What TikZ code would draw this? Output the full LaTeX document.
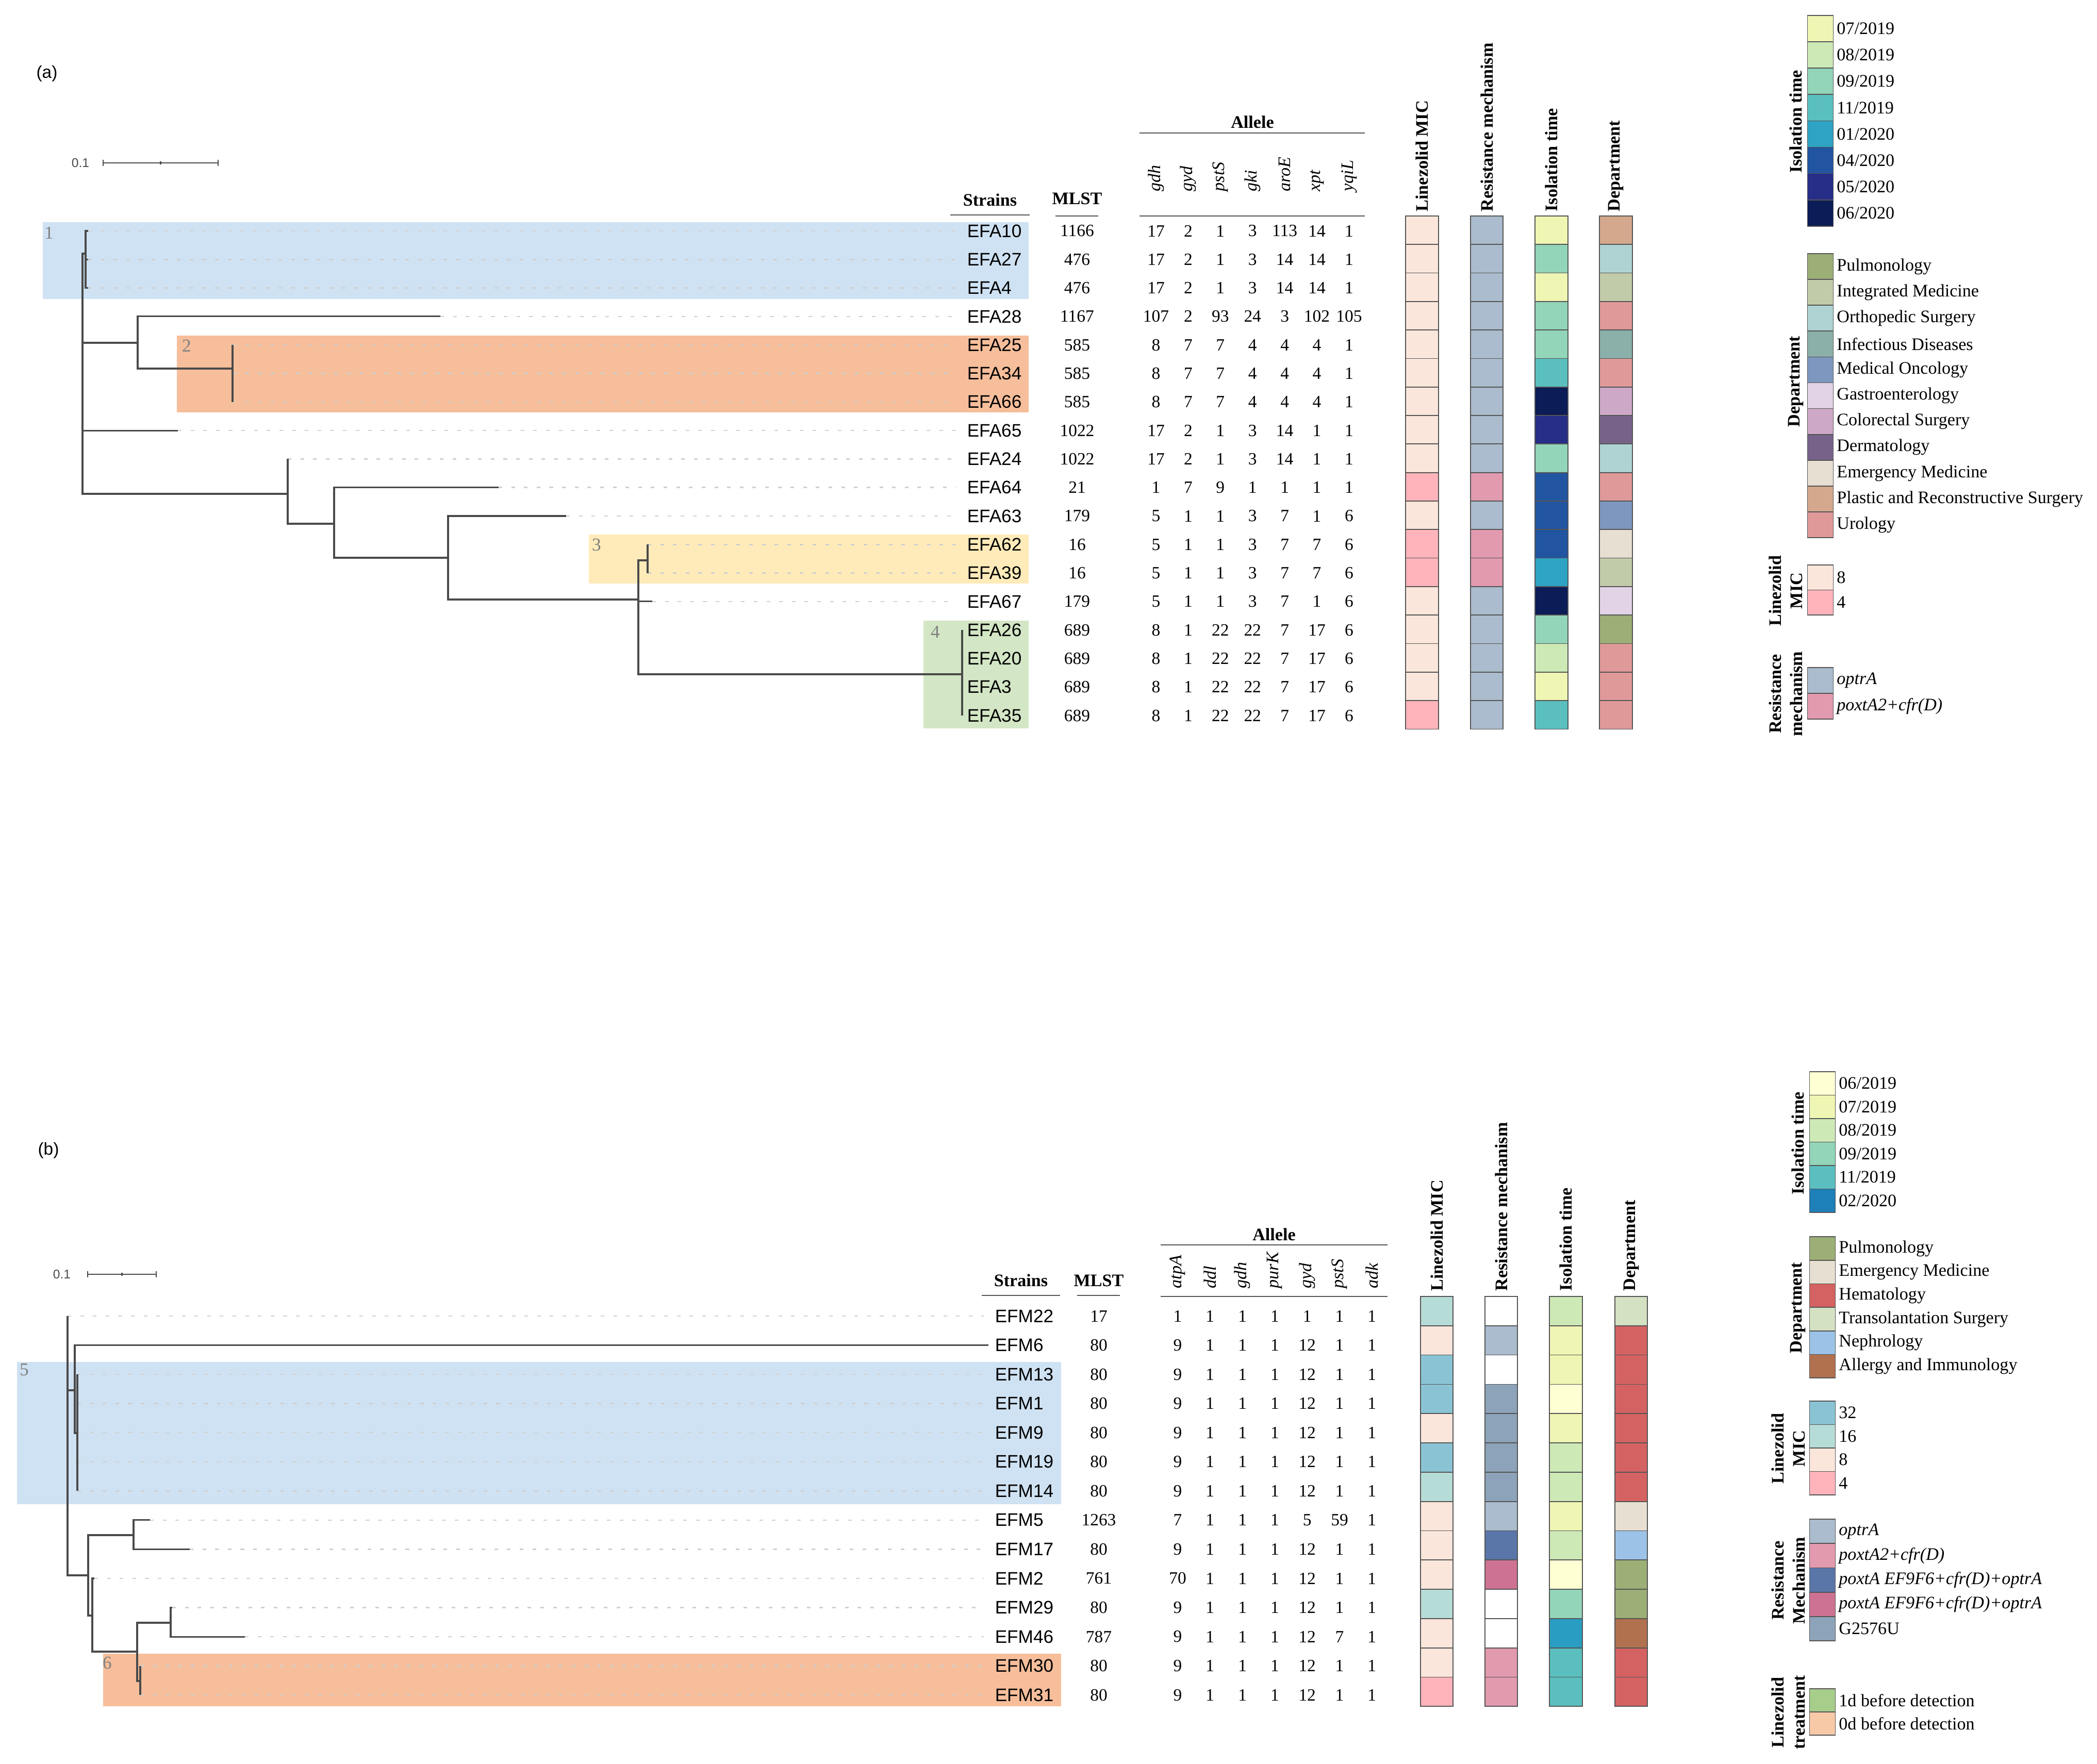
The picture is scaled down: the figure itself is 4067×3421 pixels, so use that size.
\documentclass[tikz,border=0pt]{standalone}
\usepackage{fontspec}
\setmainfont{Liberation Serif}
\setsansfont{Liberation Sans}
\usepackage{tikz}
\usetikzlibrary{positioning}

\definecolor{branchc}{HTML}{4A4A4A}
\definecolor{guidec}{HTML}{D0D0D0}
\definecolor{rulec}{HTML}{555555}
\definecolor{cladec}{HTML}{808080}
\definecolor{hlBlue}{HTML}{CFE2F3}
\definecolor{hlOrange}{HTML}{F6BE9A}
\definecolor{hlYellow}{HTML}{FFEBB9}
\definecolor{hlGreen}{HTML}{D3E6C5}
% isolation time
\definecolor{iJunA}{HTML}{FFFFD4}
\definecolor{iJul}{HTML}{EFF5B3}
\definecolor{iAug}{HTML}{CDE9B6}
\definecolor{iSep}{HTML}{92D5B8}
\definecolor{iNov}{HTML}{5BBFBF}
\definecolor{iJan}{HTML}{2EA3C3}
\definecolor{iFeb}{HTML}{1D80B8}
\definecolor{iFebc}{HTML}{2A9DC3}
\definecolor{iApr}{HTML}{2255A1}
\definecolor{iMay}{HTML}{262E88}
\definecolor{iJunB}{HTML}{0C1C56}
% department
\definecolor{dPul}{HTML}{9CAF76}
\definecolor{dInt}{HTML}{C2CBA9}
\definecolor{dOrt}{HTML}{AFD3D3}
\definecolor{dInf}{HTML}{8BAFA9}
\definecolor{dMed}{HTML}{7D97BF}
\definecolor{dGas}{HTML}{E2D3E6}
\definecolor{dCol}{HTML}{CDA9C7}
\definecolor{dDer}{HTML}{77638A}
\definecolor{dEme}{HTML}{E6DFD2}
\definecolor{dPla}{HTML}{D3A88D}
\definecolor{dUro}{HTML}{E09999}
\definecolor{dHem}{HTML}{D56262}
\definecolor{dTra}{HTML}{D4E1C2}
\definecolor{dNep}{HTML}{9CC3E7}
\definecolor{dAll}{HTML}{B1714F}
% MIC, mechanism, treatment
\definecolor{mEight}{HTML}{FBE6DB}
\definecolor{mFour}{HTML}{FFB4BB}
\definecolor{mThirtytwo}{HTML}{8AC4D4}
\definecolor{mSixteen}{HTML}{B6DCD7}
\definecolor{rOpt}{HTML}{AABCCD}
\definecolor{rPox}{HTML}{E29AAF}
\definecolor{rEFb}{HTML}{5A76A9}
\definecolor{rEFp}{HTML}{CD7293}
\definecolor{rG}{HTML}{8DA3B9}
\definecolor{tOne}{HTML}{A7CD8B}
\definecolor{tZero}{HTML}{F8C9A7}

\tikzset{
  branch/.style={draw=branchc, line width=0.9pt},
  guide/.style={draw=guidec, line width=0.7pt, dash pattern=on 2pt off 5pt, shorten >=4pt},
  strain/.style={anchor=west, inner sep=2pt, font=\sffamily\fontsize{10}{12}\selectfont},
  val/.style={inner sep=0pt, font=\fontsize{9.5}{11}\selectfont},
  hdr/.style={inner sep=0pt, font=\bfseries\fontsize{9.7}{11.6}\selectfont},
  gene/.style={rotate=90, anchor=west, inner sep=0pt, font=\itshape\fontsize{9.7}{11.6}\selectfont},
  colhd/.style={rotate=90, anchor=west, inner sep=0pt, font=\bfseries\fontsize{9.7}{11.6}\selectfont},
  rule/.style={draw=rulec, line width=0.8pt},
  cell/.style={draw=rulec, line width=0.5pt, inner sep=0pt, minimum width=0.635cm},
  swatch/.style={draw=rulec, line width=0.5pt, inner sep=0pt, minimum width=0.5cm},
  legtxt/.style={anchor=west, inner sep=1.5pt, font=\fontsize{9.7}{11.6}\selectfont},
  legttl/.style={rotate=90, inner sep=0pt, align=center, font=\bfseries\fontsize{9.7}{11.6}\selectfont},
  clade/.style={text=cladec, inner sep=0pt, font=\fontsize{10}{12}\selectfont},
  panel/.style={inner sep=0pt, font=\sffamily\fontsize{9.5}{11}\selectfont},
  scalebar/.style={draw=branchc, line width=0.7pt},
  sbtext/.style={inner sep=0pt, text=branchc, font=\sffamily\fontsize{7}{8}\selectfont}
}

% legend column: name, x, top, cell height, list colour/text
\newcommand{\legcol}[5]{%
  \foreach \col/\txt [count=\k from 0] in {#5}{%
    \node[swatch, fill=\col, minimum height=#4*0.01cm] (#1-\k) at (#2,{#3+#4*(\k+0.5)}) {};
    \node[legtxt] (#1-\k-t) at (#1-\k.east) {\txt};
  }}

\begin{document}
\begin{tikzpicture}[x=0.01cm, y=-0.01cm]
  \useasboundingbox (0,0) rectangle (4067,3421);

  %% ---------- panel (a) ----------
  \node[panel] (pa) at (91,143) {(a)};
  \coordinate (sbA-l) at (200,316);
  \coordinate (sbA-r) at (423,316);
  \draw[scalebar] (sbA-l) -- (sbA-r);
  \draw[scalebar] (200,310) -- (200,322) (423,310) -- (423,322) (311.5,313) -- (311.5,319);
  \node[sbtext] (sbA-t) at (156,316) {0.1};

  \fill[hlBlue] (83,431) rectangle (1995,580);
  \fill[hlOrange] (343,651) rectangle (1995,800);
  \fill[hlYellow] (1142,1037) rectangle (1995,1132);
  \fill[hlGreen] (1791,1204) rectangle (1995,1413);
  \node[clade] (cl-1) at (95,452) {1};
  \node[clade] (cl-2) at (362,671) {2};
  \node[clade] (cl-3) at (1157,1057) {3};
  \node[clade] (cl-4) at (1814,1226) {4};

  \node[hdr] (ha-str) at (1920,388) {Strains};
  \node[hdr] (ha-mlst) at (2089,385) {MLST};
  \node[hdr] (ha-all) at (2429,237) {Allele};
  \draw[rule] (1843,417) -- (1997,417);
  \draw[rule] (2047,419) -- (2130,419);
  \draw[rule] (2210,258) -- (2647,258);
  \draw[rule] (2210,419) -- (2647,419);
  \foreach \g [count=\k from 0] in {gdh,gyd,pstS,gki,aroE,xpt,yqiL}
    \node[gene] (ga-\k) at ({2242+62.4*\k},372) {\g};
  \foreach \t/\x [count=\k] in {Linezolid MIC/2758,Resistance mechanism/2883.5,Isolation time/3009,Department/3134}
    \node[colhd] (ha-c\k) at (\x,411) {\t};

  \foreach \name/\tx/\mlst/\ua/\ub/\uc/\ud/\ue/\uf/\ug [count=\i from 0, evaluate=\i as \yy using 448+55.3*\i] in {
      EFA10/171/1166/17/2/1/3/113/14/1, EFA27/171/476/17/2/1/3/14/14/1,
      EFA4/171/476/17/2/1/3/14/14/1, EFA28/854/1167/107/2/93/24/3/102/105,
      EFA25/451/585/8/7/7/4/4/4/1, EFA34/451/585/8/7/7/4/4/4/1,
      EFA66/451/585/8/7/7/4/4/4/1, EFA65/345/1022/17/2/1/3/14/1/1,
      EFA24/558/1022/17/2/1/3/14/1/1, EFA64/967/21/1/7/9/1/1/1/1,
      EFA63/1098/179/5/1/1/3/7/1/6, EFA62/1256/16/5/1/1/3/7/7/6,
      EFA39/1256/16/5/1/1/3/7/7/6, EFA67/1265/179/5/1/1/3/7/1/6,
      EFA26/1866/689/8/1/22/22/7/17/6, EFA20/1866/689/8/1/22/22/7/17/6,
      EFA3/1866/689/8/1/22/22/7/17/6, EFA35/1866/689/8/1/22/22/7/17/6}{
    \coordinate (t-\name) at (\tx,\yy);
    \node[strain] (s-\name) at (1868,\yy) {\name};
    \ifdim\tx pt<1800pt \draw[guide] (t-\name) -- (s-\name.west); \fi
    \node[val] (m-\name) at (2089,\yy) {\mlst};
    \foreach \v [count=\k from 0] in {\ua,\ub,\uc,\ud,\ue,\uf,\ug}
      \node[val] (v-\name-\k) at ({2242+62.4*\k},\yy) {\v};
  }

  % tree (a)
  \coordinate (rA) at (160,700);
  \coordinate (c1) at (166,492);
  \coordinate (n28) at (267,665);
  \coordinate (c2) at (451,715);
  \coordinate (n24) at (558,958);
  \coordinate (n64) at (648,1016);
  \coordinate (n63) at (869,1082);
  \coordinate (n67) at (1238,1163);
  \coordinate (c3) at (1256,1087);
  \coordinate (c4) at (1866,1308);
  \foreach \p/\c in {rA/c1,rA/n28,rA/t-EFA65,rA/n24,
      c1/t-EFA10,c1/t-EFA27,c1/t-EFA4, n28/t-EFA28,n28/c2,
      c2/t-EFA25,c2/t-EFA34,c2/t-EFA66, n24/t-EFA24,n24/n64,
      n64/t-EFA64,n64/n63, n63/t-EFA63,n63/n67,
      n67/c3,n67/t-EFA67,n67/c4, c3/t-EFA62,c3/t-EFA39,
      c4/t-EFA26,c4/t-EFA20,c4/t-EFA3,c4/t-EFA35}
    \draw[branch] (\p) |- (\c);

  \foreach \mic/\res/\iso/\dep [count=\i from 0, evaluate=\i as \yy using 446.6+55.3*\i] in {
      mEight/rOpt/iJul/dPla, mEight/rOpt/iSep/dOrt, mEight/rOpt/iJul/dInt,
      mEight/rOpt/iSep/dUro, mEight/rOpt/iSep/dInf, mEight/rOpt/iNov/dUro,
      mEight/rOpt/iJunB/dCol, mEight/rOpt/iMay/dDer, mEight/rOpt/iSep/dOrt,
      mFour/rPox/iApr/dUro, mEight/rOpt/iApr/dMed, mFour/rPox/iApr/dEme,
      mFour/rPox/iJan/dInt, mEight/rOpt/iJunB/dGas, mEight/rOpt/iSep/dPul,
      mEight/rOpt/iAug/dUro, mEight/rOpt/iJul/dUro, mFour/rOpt/iNov/dUro}{
    \node[cell, minimum height=0.553cm, fill=\mic] (ca-\i-1) at (2758,\yy) {};
    \node[cell, minimum height=0.553cm, fill=\res] (ca-\i-2) at (2883.5,\yy) {};
    \node[cell, minimum height=0.553cm, fill=\iso] (ca-\i-3) at (3009,\yy) {};
    \node[cell, minimum height=0.553cm, fill=\dep] (ca-\i-4) at (3134,\yy) {};
  }

  % legend (a)
  \legcol{la-iso}{3530.5}{30}{51.1}{iJul/{07/2019},iAug/{08/2019},iSep/{09/2019},iNov/{11/2019},iJan/{01/2020},iApr/{04/2020},iMay/{05/2020},iJunB/{06/2020}}
  \legcol{la-dep}{3530.5}{492}{50.1}{dPul/Pulmonology,dInt/Integrated Medicine,dOrt/Orthopedic Surgery,dInf/Infectious Diseases,dMed/Medical Oncology,dGas/Gastroenterology,dCol/Colorectal Surgery,dDer/Dermatology,dEme/Emergency Medicine,dPla/Plastic and Reconstructive Surgery,dUro/Urology}
  \legcol{la-mic}{3530.5}{1096}{48.5}{mEight/8,mFour/4}
  \legcol{la-res}{3530.5}{1295}{50}{rOpt/\textit{optrA},rPox/{\textit{poxtA2+cfr(D)}}}
  \node[legttl] (la-iso-h) at (3483,236) {Isolation time};
  \node[legttl] (la-dep-h) at (3483,740) {Department};
  \node[legttl] (la-mic-h) at (3463,1146) {Linezolid\\MIC};
  \node[legttl] (la-res-h) at (3463,1346) {Resistance\\mechanism};

  %% ---------- panel (b) ----------
  \node[panel] (pb) at (94,2232) {(b)};
  \coordinate (sbB-l) at (170,2472);
  \coordinate (sbB-r) at (303,2472);
  \draw[scalebar] (sbB-l) -- (sbB-r);
  \draw[scalebar] (170,2466) -- (170,2478) (303,2466) -- (303,2478) (236.5,2469) -- (236.5,2475);
  \node[sbtext] (sbB-t) at (120,2472) {0.1};

  \fill[hlBlue] (33,2642) rectangle (2058,2918);
  \fill[hlOrange] (200,3208) rectangle (2058,3310);
  \node[clade] (cl-5) at (47,2657) {5};
  \node[clade] (cl-6) at (208,3226) {6};

  \node[hdr] (hb-str) at (1980,2484) {Strains};
  \node[hdr] (hb-mlst) at (2131,2484) {MLST};
  \node[hdr] (hb-all) at (2471,2395) {Allele};
  \draw[rule] (1904,2513) -- (2056,2513);
  \draw[rule] (2089,2513) -- (2172,2513);
  \draw[rule] (2251,2415) -- (2691,2415);
  \draw[rule] (2251,2515) -- (2691,2515);
  \foreach \g [count=\k from 0] in {atpA,ddl,gdh,purK,gyd,pstS,adk}
    \node[gene] (gb-\k) at ({2284+62.8*\k},2500) {\g};
  \foreach \t/\x [count=\k] in {Linezolid MIC/2786.5,Resistance mechanism/2911.5,Isolation time/3037,Department/3163.5}
    \node[colhd] (hb-c\k) at (\x,2505) {\t};

  \foreach \name/\tx/\mlst/\ua/\ub/\uc/\ud/\ue/\uf/\ug [count=\i from 0, evaluate=\i as \yy using 2553+56.55*\i] in {
      EFM22/131/17/1/1/1/1/1/1/1, EFM6/1917/80/9/1/1/1/12/1/1,
      EFM13/150/80/9/1/1/1/12/1/1, EFM1/150/80/9/1/1/1/12/1/1,
      EFM9/150/80/9/1/1/1/12/1/1, EFM19/150/80/9/1/1/1/12/1/1,
      EFM14/150/80/9/1/1/1/12/1/1, EFM5/291/1263/7/1/1/1/5/59/1,
      EFM17/368/80/9/1/1/1/12/1/1, EFM2/183/761/70/1/1/1/12/1/1,
      EFM29/334/80/9/1/1/1/12/1/1, EFM46/475/787/9/1/1/1/12/7/1,
      EFM30/272/80/9/1/1/1/12/1/1, EFM31/272/80/9/1/1/1/12/1/1}{
    \coordinate (t-\name) at (\tx,\yy);
    \node[strain] (s-\name) at (1922,\yy) {\name};
    \ifdim\tx pt<1800pt \draw[guide] (t-\name) -- (s-\name.west); \fi
    \node[val] (m-\name) at (2131,\yy) {\mlst};
    \foreach \v [count=\k from 0] in {\ua,\ub,\uc,\ud,\ue,\uf,\ug}
      \node[val] (v-\name-\k) at ({2284+62.8*\k},\yy) {\v};
  }

  % tree (b)
  \coordinate (rB) at (131,2800);
  \coordinate (nA) at (145,2697);
  \coordinate (c5) at (150,2780);
  \coordinate (nL) at (171,3056);
  \coordinate (nM) at (259,2978);
  \coordinate (nN) at (179,3134);
  \coordinate (nP) at (266,3204);
  \coordinate (nQ) at (331,3148);
  \coordinate (c6) at (272,3261);
  \foreach \p/\c in {rB/t-EFM22,rB/nA,rB/nL, nA/t-EFM6,nA/c5,
      c5/t-EFM13,c5/t-EFM1,c5/t-EFM9,c5/t-EFM19,c5/t-EFM14,
      nL/nM,nL/nN, nM/t-EFM5,nM/t-EFM17, nN/t-EFM2,nN/nP,
      nP/nQ,nP/c6, nQ/t-EFM29,nQ/t-EFM46, c6/t-EFM30,c6/t-EFM31}
    \draw[branch] (\p) |- (\c);

  \foreach \mic/\res/\iso/\dep [count=\i from 0, evaluate=\i as \yy using 2543.4+56.8*\i] in {
      mSixteen/white/iAug/dTra, mEight/rOpt/iJul/dHem, mThirtytwo/white/iJul/dHem,
      mThirtytwo/rG/iJunA/dHem, mEight/rG/iJul/dHem, mThirtytwo/rG/iAug/dHem,
      mSixteen/rG/iAug/dHem, mEight/rOpt/iJul/dEme, mEight/rEFb/iAug/dNep,
      mEight/rEFp/iJunA/dPul, mSixteen/white/iSep/dPul, mEight/white/iFebc/dAll,
      mEight/rPox/iNov/dHem, mFour/rPox/iNov/dHem}{
    \node[cell, minimum height=0.568cm, fill=\mic] (cb-\i-1) at (2786.5,\yy) {};
    \node[cell, minimum height=0.568cm, fill=\res] (cb-\i-2) at (2911.5,\yy) {};
    \node[cell, minimum height=0.568cm, fill=\iso] (cb-\i-3) at (3037,\yy) {};
    \node[cell, minimum height=0.568cm, fill=\dep] (cb-\i-4) at (3163.5,\yy) {};
  }

  % legend (b)
  \legcol{lb-iso}{3534.5}{2079}{45.5}{iJunA/{06/2019},iJul/{07/2019},iAug/{08/2019},iSep/{09/2019},iNov/{11/2019},iFeb/{02/2020}}
  \legcol{lb-dep}{3534.5}{2399}{45.7}{dPul/Pulmonology,dEme/Emergency Medicine,dHem/Hematology,dTra/Transolantation Surgery,dNep/Nephrology,dAll/Allergy and Immunology}
  \legcol{lb-mic}{3534.5}{2718}{45.5}{mThirtytwo/32,mSixteen/16,mEight/8,mFour/4}
  \legcol{lb-res}{3534.5}{2947}{47.2}{rOpt/\textit{optrA},rPox/{\textit{poxtA2+cfr(D)}},rEFb/{\textit{poxtA EF9F6+cfr(D)+optrA}},rEFp/{\textit{poxtA EF9F6+cfr(D)+optrA}},rG/G2576U}
  \legcol{lb-trt}{3534.5}{3276}{45}{tOne/1d before detection,tZero/0d before detection}
  \node[legttl] (lb-iso-h) at (3487,2218) {Isolation time};
  \node[legttl] (lb-dep-h) at (3487,2537) {Department};
  \node[legttl] (lb-mic-h) at (3468,2810) {Linezolid\\MIC};
  \node[legttl] (lb-res-h) at (3468,3066) {Resistance\\Mechanism};
  \node[legttl] (lb-trt-h) at (3468,3322) {Linezolid\\treatment};
\end{tikzpicture}
\end{document}
